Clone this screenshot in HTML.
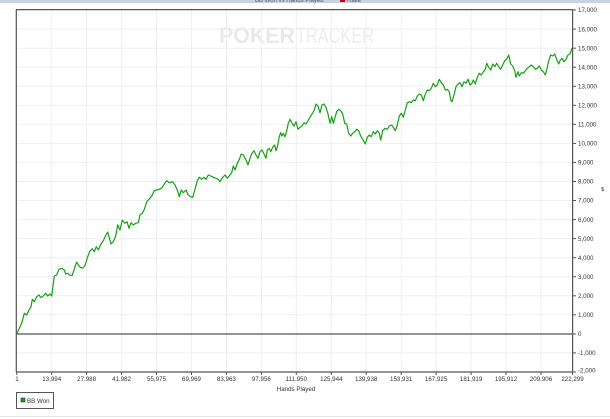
<!DOCTYPE html>
<html><head><meta charset="utf-8"><style>
html,body{margin:0;padding:0;background:#fff;}
svg{display:block;}
text{font-family:"Liberation Sans",Arial,sans-serif;}
</style></head><body>
<svg width="610" height="419" viewBox="0 0 610 419" xmlns="http://www.w3.org/2000/svg">
<rect x="0" y="0" width="610" height="419" fill="#fff"/>
<rect x="0" y="0" width="610" height="3" fill="#c9d2e2"/>
<text x="255" y="2" font-size="6" fill="#555">BB Won vs Hands Played</text>
<rect x="340" y="-2" width="5" height="4" fill="#c00"/>
<text x="347" y="2" font-size="6" fill="#555">Rake</text>
<!-- watermark -->
<text x="219" y="43" font-size="22" font-weight="bold" fill="#e9e9e9" textLength="76" lengthAdjust="spacingAndGlyphs">POKER</text>
<text x="296" y="43" font-size="22" fill="#ececec" textLength="78" lengthAdjust="spacingAndGlyphs">TRACKER</text>
<!-- grid -->
<g stroke="#efefef" stroke-width="1">
<line x1="51.7" y1="10" x2="51.7" y2="372"/><line x1="86.6" y1="10" x2="86.6" y2="372"/><line x1="121.6" y1="10" x2="121.6" y2="372"/><line x1="156.5" y1="10" x2="156.5" y2="372"/><line x1="191.5" y1="10" x2="191.5" y2="372"/><line x1="226.4" y1="10" x2="226.4" y2="372"/><line x1="261.4" y1="10" x2="261.4" y2="372"/><line x1="296.3" y1="10" x2="296.3" y2="372"/><line x1="331.3" y1="10" x2="331.3" y2="372"/><line x1="366.2" y1="10" x2="366.2" y2="372"/><line x1="401.2" y1="10" x2="401.2" y2="372"/><line x1="436.1" y1="10" x2="436.1" y2="372"/><line x1="471.1" y1="10" x2="471.1" y2="372"/><line x1="506" y1="10" x2="506" y2="372"/><line x1="541" y1="10" x2="541" y2="372"/>
<line x1="16" y1="29.1" x2="573" y2="29.1"/><line x1="16" y1="48.2" x2="573" y2="48.2"/><line x1="16" y1="67.2" x2="573" y2="67.2"/><line x1="16" y1="86.3" x2="573" y2="86.3"/><line x1="16" y1="105.3" x2="573" y2="105.3"/><line x1="16" y1="124.3" x2="573" y2="124.3"/><line x1="16" y1="143.4" x2="573" y2="143.4"/><line x1="16" y1="162.4" x2="573" y2="162.4"/><line x1="16" y1="181.5" x2="573" y2="181.5"/><line x1="16" y1="200.5" x2="573" y2="200.5"/><line x1="16" y1="219.6" x2="573" y2="219.6"/><line x1="16" y1="238.6" x2="573" y2="238.6"/><line x1="16" y1="257.7" x2="573" y2="257.7"/><line x1="16" y1="276.7" x2="573" y2="276.7"/><line x1="16" y1="295.8" x2="573" y2="295.8"/><line x1="16" y1="314.8" x2="573" y2="314.8"/><line x1="16" y1="352.9" x2="573" y2="352.9"/>
</g>
<!-- frame -->
<g stroke="#555" stroke-width="1.2" fill="none">
<line x1="16" y1="9.6" x2="573" y2="9.6"/>
<line x1="16.3" y1="9.6" x2="16.3" y2="372"/>
<line x1="572.6" y1="9.6" x2="572.6" y2="372.5"/>
<line x1="16" y1="372" x2="573" y2="372"/>
<line x1="16" y1="334" x2="573" y2="334"/>
</g>
<!-- y ticks -->
<g stroke="#555" stroke-width="1">
<line x1="573" y1="10" x2="576" y2="10"/><line x1="573" y1="29.1" x2="576" y2="29.1"/><line x1="573" y1="48.2" x2="576" y2="48.2"/><line x1="573" y1="67.2" x2="576" y2="67.2"/><line x1="573" y1="86.3" x2="576" y2="86.3"/><line x1="573" y1="105.3" x2="576" y2="105.3"/><line x1="573" y1="124.3" x2="576" y2="124.3"/><line x1="573" y1="143.4" x2="576" y2="143.4"/><line x1="573" y1="162.4" x2="576" y2="162.4"/><line x1="573" y1="181.5" x2="576" y2="181.5"/><line x1="573" y1="200.5" x2="576" y2="200.5"/><line x1="573" y1="219.6" x2="576" y2="219.6"/><line x1="573" y1="238.6" x2="576" y2="238.6"/><line x1="573" y1="257.7" x2="576" y2="257.7"/><line x1="573" y1="276.7" x2="576" y2="276.7"/><line x1="573" y1="295.8" x2="576" y2="295.8"/><line x1="573" y1="314.8" x2="576" y2="314.8"/><line x1="573" y1="334" x2="576" y2="334"/><line x1="573" y1="352.9" x2="576" y2="352.9"/><line x1="573" y1="372" x2="576" y2="372"/>
</g>
<g font-size="6.2" fill="#333">
<text x="578" y="12.2">17,000</text><text x="578" y="31.3">16,000</text><text x="578" y="50.4">15,000</text><text x="578" y="69.4">14,000</text><text x="578" y="88.5">13,000</text><text x="578" y="107.5">12,000</text><text x="578" y="126.5">11,000</text><text x="578" y="145.6">10,000</text><text x="578" y="164.6">9,000</text><text x="578" y="183.7">8,000</text><text x="578" y="202.7">7,000</text><text x="578" y="221.8">6,000</text><text x="578" y="240.8">5,000</text><text x="578" y="259.9">4,000</text><text x="578" y="278.9">3,000</text><text x="578" y="298">2,000</text><text x="578" y="317">1,000</text><text x="578" y="336.2">0</text><text x="578" y="355.1">-1,000</text><text x="578" y="372.5">-2,000</text>
</g>
<text x="601" y="191" font-size="5.5" fill="#333">$</text>
<!-- x ticks -->
<g stroke="#555" stroke-width="1">
<line x1="16.7" y1="372" x2="16.7" y2="375"/><line x1="51.7" y1="372" x2="51.7" y2="375"/><line x1="86.6" y1="372" x2="86.6" y2="375"/><line x1="121.6" y1="372" x2="121.6" y2="375"/><line x1="156.5" y1="372" x2="156.5" y2="375"/><line x1="191.5" y1="372" x2="191.5" y2="375"/><line x1="226.4" y1="372" x2="226.4" y2="375"/><line x1="261.4" y1="372" x2="261.4" y2="375"/><line x1="296.3" y1="372" x2="296.3" y2="375"/><line x1="331.3" y1="372" x2="331.3" y2="375"/><line x1="366.2" y1="372" x2="366.2" y2="375"/><line x1="401.2" y1="372" x2="401.2" y2="375"/><line x1="436.1" y1="372" x2="436.1" y2="375"/><line x1="471.1" y1="372" x2="471.1" y2="375"/><line x1="506" y1="372" x2="506" y2="375"/><line x1="541" y1="372" x2="541" y2="375"/><line x1="572.6" y1="372" x2="572.6" y2="375"/>
</g>
<g font-size="6.2" text-anchor="middle" fill="#333">
<text x="17" y="381">1</text><text x="51.7" y="381">13,994</text><text x="86.6" y="381">27,988</text><text x="121.6" y="381">41,982</text><text x="156.5" y="381">55,975</text><text x="191.5" y="381">69,969</text><text x="226.4" y="381">83,963</text><text x="261.4" y="381">97,956</text><text x="296.3" y="381">111,950</text><text x="331.3" y="381">125,944</text><text x="366.2" y="381">139,938</text><text x="401.2" y="381">153,931</text><text x="436.1" y="381">167,925</text><text x="471.1" y="381">181,919</text><text x="506" y="381">195,912</text><text x="541" y="381">209,906</text><text x="572.5" y="381">222,299</text>
</g>
<text x="296" y="391" font-size="6.2" text-anchor="middle" fill="#333">Hands Played</text>
<!-- series -->
<polyline fill="none" stroke="#14a014" stroke-width="1.2" stroke-linejoin="round" points="
17,333.3 21.7,323.3 24.3,313.3 26.7,315 29,310 31,306.7 32.3,299.3 34.3,301.7 36.7,296.7 39,295 41,297.7 43.3,296 45.7,293.3 47.7,296 50,294 51.7,296 54.3,276 56.7,275 59,269.3 61.7,268.3 64.3,270 65.7,274 67.7,273.3 70,275.3 72.3,275.3 75,266.7 76.7,262 78.3,265 80.3,267.3 82.7,268 85,265.7 87.7,256.7 90,251 92.3,248.7 94.3,251.7 96.3,246.7 98.3,250 101,244 103.3,240.7 105.7,235.3 107.7,232 109,236.7 111,244 113.3,241.7 115.7,236 117.7,225 120,230 122.3,220 125,223.3 127,221.7 129,228.3 131,222.7 133.3,225 135.7,223.3 138.3,222.7 140,215 142.3,213.3 144.3,209.3 146.7,201.7 149,199.3 151.7,196 154.3,190.7 156.7,190 159,189.3 161.7,188.3 164.3,184 166.7,180.7 169,182.7 170,182.7 172.7,181.7 175,185 177.3,190 179.3,196.7 181.3,190 183.3,192.7 186,190 188.3,195 190.7,196.7 192.7,197.3 195,189.3 197.3,180.7 199.3,177.3 201.7,179.3 204,177.3 206,179.3 208.3,175 210.7,176 213.3,177.3 216,178.3 218.3,179.3 220,181.7 222.7,177.3 225,175 227.3,178.3 230,175 231.7,172.7 233.3,166 235,170 237.3,163.3 239.3,159.3 241.3,154 243.3,155 246,160 248,165 250,158.3 252,153.3 254,150.7 256,155 258,158.3 260,151.7 262,150 264,154 266,158.3 267.3,150 269.3,148.3 270.7,151.7 272.7,147.3 274.7,145 276,150.7 277.3,147.3 279.3,136.7 280.7,132.7 282,136 283.3,133.3 285,136.7 286.7,130.7 288.3,123.3 290,119.3 291.7,122.7 294,126 296,121.7 298,129.3 300,127.3 302,126 304,122.7 306,124 308,120.7 310,117.3 312,114 314,110.7 316,104 318,106 320,112.7 322,105 324,104 326,107.3 328,114 330,123.3 331.7,116.7 333.3,123.3 335,117.3 336.7,111.7 338.7,109.3 340.7,110.7 342.7,114 344.7,123.3 346.7,124 348.7,133.3 350.7,136 352.7,133.3 354.7,131.7 356.7,129.3 358.7,130.7 360.7,136 362.7,139.3 365.3,144 367.3,137.3 369.3,135 371.3,136.7 373.3,131.7 375.3,134 377.3,130.7 379.3,133.3 380.7,140 382.7,130.7 385,128.3 387.3,129.3 389.3,126 391.7,125 393.3,127.3 395.3,130.7 397.3,125 399.3,116 401.3,113.3 403.3,117.3 405.3,110 407.3,102.7 409.3,101.7 411.3,102.7 413.3,100 415.3,100.7 417.3,96 419.3,94 421.3,95 423.3,100.7 425.3,94 427.3,90 429.3,90.7 431.3,88.3 433.3,83.3 435.3,86.7 437.3,85 439.3,79.3 441.3,82.7 443.3,85 445.3,90 447.3,89.3 449.3,91.7 450.7,100 452,101.7 454,95 456,86.7 458,84 460,82.7 462,86.7 464,81.7 466,83.3 468,79.3 470,85 472,83.3 473.3,80 475.3,84 477.3,77.3 479.3,73.3 481.3,75 483.3,71.7 485.3,69.3 486.7,63.3 488.7,67.3 490.7,70 492.7,64 494.7,66.7 496.7,63.3 498.7,66.7 500.7,69.3 502.7,65 504.7,60.7 506.7,59.3 508.7,55 510.7,64 512.7,66 514.7,70.7 516,77.3 518,71.7 519.3,76 521.3,72.7 523.3,73.3 525.3,70.7 527.3,68.3 529.3,66.7 531.3,65 533.3,66.7 535.3,69.3 537.3,68.3 539.3,66 541.3,70 543.3,71.7 545.3,75 546.7,70 548.7,60.7 550.7,55 552.7,56 554.7,54 556.7,59.3 558.7,64 560,60.7 562,58.3 564,61.7 566,59.3 568,55 570,54 572,48.3"/>
<!-- legend -->
<rect x="16.5" y="392.5" width="37" height="16" fill="#fff" stroke="#555" stroke-width="1"/>
<rect x="21" y="398" width="4" height="4" fill="#14a014" stroke="#333" stroke-width="0.6"/>
<text x="27" y="403" font-size="6.2" fill="#333">BB Won</text>
<line x1="0" y1="416.5" x2="610" y2="416.5" stroke="#e6e6e6" stroke-width="1"/>
</svg>
</body></html>
